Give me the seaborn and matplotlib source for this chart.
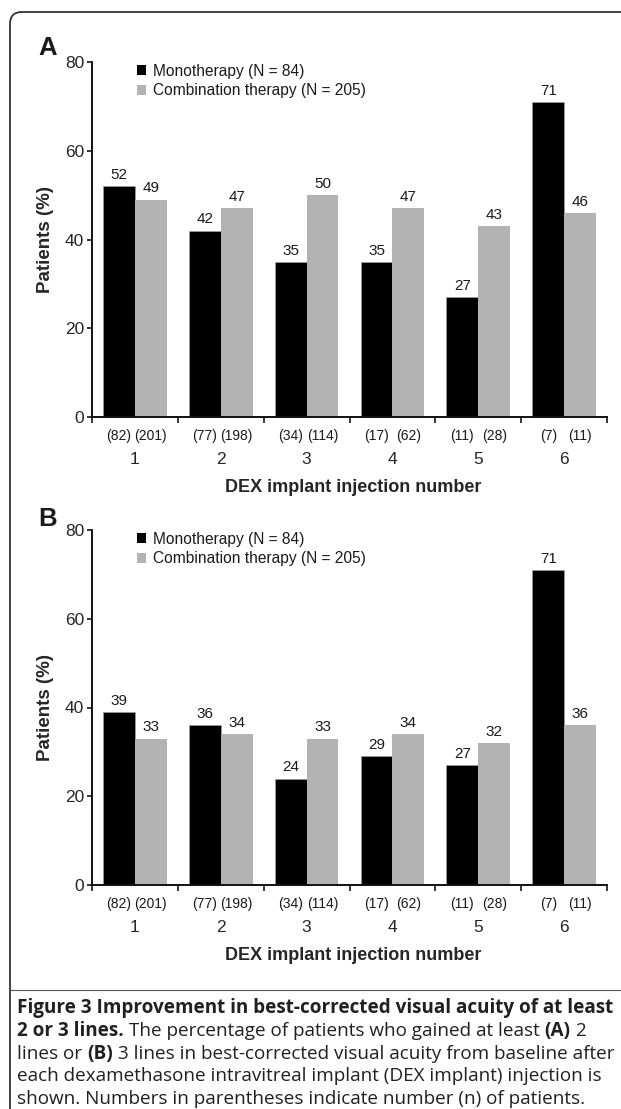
import matplotlib
matplotlib.use("Agg")
import matplotlib.pyplot as plt
from matplotlib.patches import FancyBboxPatch
from matplotlib.lines import Line2D
import numpy as np
import pandas as pd
import seaborn as sns

injections = ["1", "2", "3", "4", "5", "6"]
therapies = ["Monotherapy (N = 84)", "Combination therapy (N = 205)"]
mono_a = [52, 42, 35, 35, 27, 71]
combo_a = [49, 47, 50, 47, 43, 46]
mono_b = [39, 36, 24, 29, 27, 71]
combo_b = [33, 34, 33, 34, 32, 36]
mono_n = [82, 77, 34, 17, 11, 7]
combo_n = [201, 198, 114, 62, 28, 11]
yticks = [0, 20, 40, 60, 80]

caption_lines = [
    [("Figure 3 Improvement in best-corrected visual acuity of at least", True)],
    [("2 or 3 lines.", True), (" The percentage of patients who gained at least ", False),
     ("(A)", True), (" 2", False)],
    [("lines or ", False), ("(B)", True),
     (" 3 lines in best-corrected visual acuity from baseline after", False)],
    [("each dexamethasone intravitreal implant (DEX implant) injection is", False)],
    [("shown. Numbers in parentheses indicate number (n) of patients.", False)],
]

W, H = 621, 1109
sns.set_theme(style="ticks")
plt.rcParams["font.family"] = ["Liberation Sans", "DejaVu Sans"]
plt.rcParams["text.color"] = "#1a1a1a"

fig = plt.figure(figsize=(W / 100, H / 100), dpi=100)
fig.patch.set_facecolor("white")

PT = 72 / 100  # points per pixel


def add_ax(left, top, right, bottom):
    return fig.add_axes([left / W, 1 - bottom / H, (right - left) / W, (bottom - top) / H])


def draw_panel(ax, mono, combo):
    df = pd.DataFrame({
        "injection": injections * 2,
        "pct": mono + combo,
        "therapy": [therapies[0]] * 6 + [therapies[1]] * 6,
    })
    sns.barplot(df, x="injection", y="pct", hue="therapy", order=injections,
                hue_order=therapies, palette=["#000000", "#b3b3b3"], saturation=1,
                width=0.74, linewidth=0, errorbar=None, ax=ax)
    for bar in ax.containers[0]:
        bar.set_edgecolor("#a0a0a0")
        bar.set_linewidth(0.5)
    for cont in ax.containers:
        ax.bar_label(cont, fmt="%d", padding=3, fontsize=11, color="#1a1a1a")
    for cont, ns in zip(ax.containers, [mono_n, combo_n]):
        for bar, n in zip(cont, ns):
            ax.annotate(f"({n})", xy=(bar.get_x() + bar.get_width() / 2, 0),
                        xycoords=("data", "axes fraction"), xytext=(0, -19 * PT),
                        textcoords="offset points", ha="center", va="center",
                        fontsize=10, color="#1a1a1a")

    ax.set_xlim(-0.5, 5.5)
    ax.set_ylim(0, 80)
    ax.set_yticks(yticks)
    ax.set_xticks(np.arange(-0.5, 6, 1))
    ax.set_xticklabels([])
    ax.set_xticks(range(6), minor=True)
    ax.set_xticklabels(injections, minor=True)
    ax.tick_params(axis="x", which="major", length=6 * PT, width=1.3, direction="out")
    ax.tick_params(axis="x", which="minor", length=0, pad=35 * PT, labelsize=12.5)
    ax.tick_params(axis="y", length=5 * PT, width=1.3, pad=2, labelsize=12.5)
    sns.despine(ax=ax)
    for s in ["left", "bottom"]:
        ax.spines[s].set_linewidth(1.4)
        ax.spines[s].set_color("#111111")

    ax.set_ylabel("Patients (%)", fontsize=13.5, fontweight="bold")
    ax.yaxis.set_label_coords(-(92 - 45) / 515, 0.5)
    ax.yaxis.label.set_va("center")
    ax.set_xlabel("DEX implant injection number", fontsize=13, fontweight="bold")
    ax.xaxis.set_label_coords(0.508, -71 / 355)
    ax.xaxis.label.set_va("center")

    handles, labels = ax.get_legend_handles_labels()
    ax.legend(handles, labels, loc="upper left",
              bbox_to_anchor=((136.5 - 92) / 515, 0.995), frameon=False,
              fontsize=11.2, handlelength=0.6, handleheight=0.6, handletextpad=0.45,
              labelspacing=0.28, borderpad=0, borderaxespad=0)


ax_a = add_ax(92, 62, 607, 417)
draw_panel(ax_a, mono_a, combo_a)
ax_b = add_ax(92, 530, 607, 885)
draw_panel(ax_b, mono_b, combo_b)

fig.text(38 / W, 1 - 48 / H, "A", fontsize=18.5, fontweight="bold", ha="left", va="center")
fig.text(38 / W, 1 - 518.5 / H, "B", fontsize=18.5, fontweight="bold", ha="left", va="center")

# frame and separator
frame = FancyBboxPatch((10, -30), 700, H - 12 + 30, boxstyle="round,pad=0,rounding_size=12",
                       transform=None, facecolor="none", edgecolor="#333333", linewidth=1.3)
fig.patches.append(frame)
fig.lines.append(Line2D([10 / W, 1], [1 - 990 / H, 1 - 990 / H], transform=fig.transFigure,
                        color="#555555", linewidth=0.8))

# caption
cap_family = ["Open Sans", "DejaVu Sans"]
cap_color = "#231f20"
renderer = fig.canvas.get_renderer()


def text_width(s, size, bold):
    t = fig.text(0, 0, s, fontsize=size, fontweight="bold" if bold else "normal", family=cap_family)
    w = t.get_window_extent(renderer).width
    t.remove()
    return w


ref = caption_lines[3][0][0]
cap_size = 10 * 585 / text_width(ref, 10, False)


def space_w(bold):
    return text_width("x x", cap_size, bold) - text_width("xx", cap_size, bold)


baselines = [1013.3, 1036, 1058.7, 1081.4, 1104.1]
for runs, yb in zip(caption_lines, baselines):
    x = 17
    for s, bold in runs:
        lead = len(s) - len(s.lstrip(" "))
        trail = len(s) - len(s.rstrip(" "))
        x += lead * space_w(bold)
        core = s.strip(" ")
        t = fig.text(x / W, 1 - yb / H, core, fontsize=cap_size, family=cap_family,
                     fontweight="bold" if bold else "normal", ha="left", va="baseline",
                     color=cap_color)
        x += t.get_window_extent(renderer).width + trail * space_w(bold)

fig.savefig("out.png", dpi=100)
